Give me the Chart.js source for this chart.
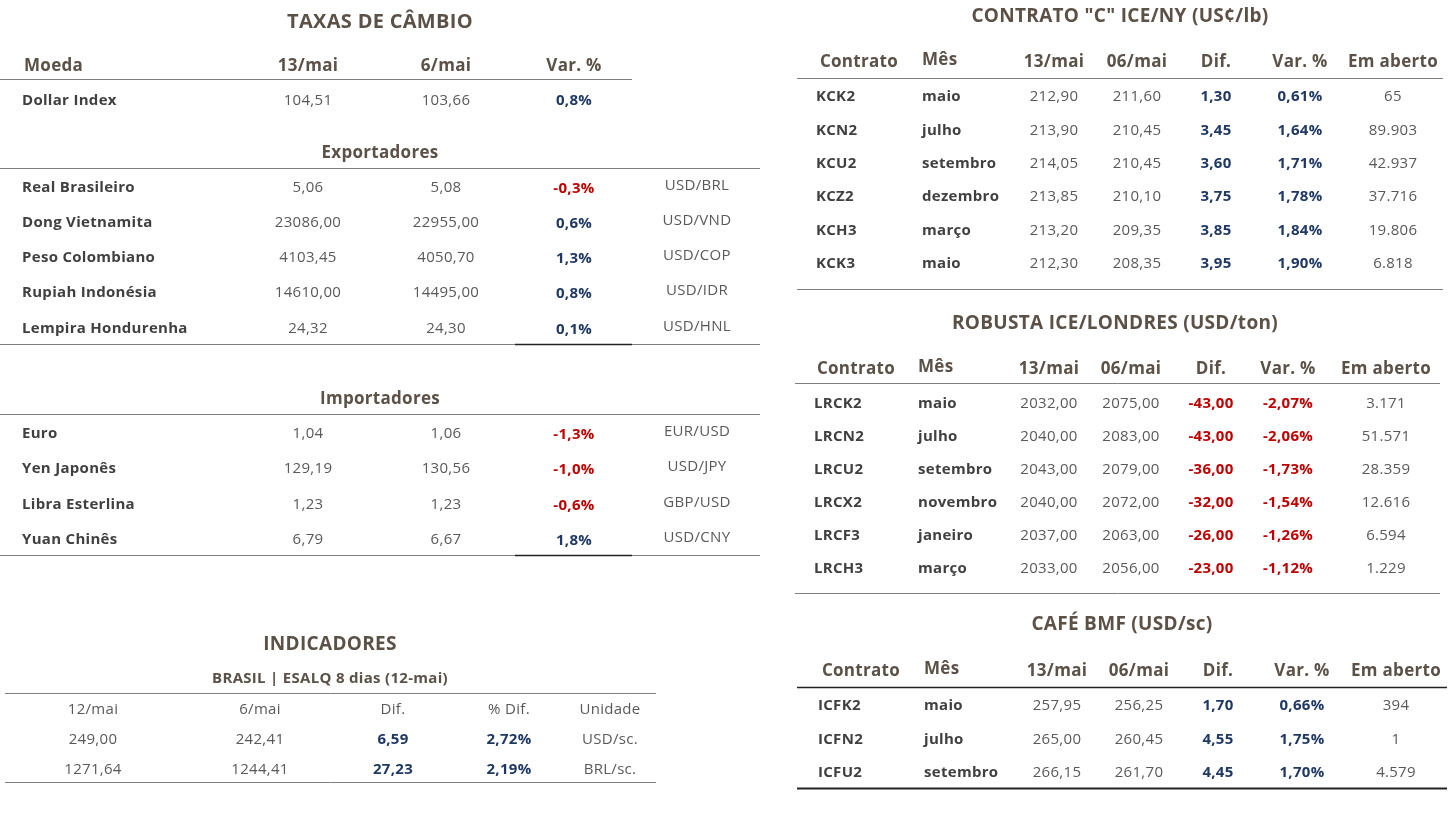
<!DOCTYPE html>
<html><head><meta charset="utf-8">
<script src="https://cdn.jsdelivr.net/npm/chart.js@4/dist/chart.umd.min.js"></script>
<style>html,body{margin:0;background:#fff}#c{display:block}</style>
</head><body>
<div style="width:1449px;height:814px"><canvas id="c"></canvas></div>
<script>
// ---- data ----
var fxHeader = ['Moeda', '13/mai', '6/mai', 'Var. %'];
var dollarIndex = ['Dollar Index', '104,51', '103,66', '0,8%'];
var exportNames = ['Real Brasileiro', 'Dong Vietnamita', 'Peso Colombiano', 'Rupiah Indonésia', 'Lempira Hondurenha'];
var export13 = ['5,06', '23086,00', '4103,45', '14610,00', '24,32'];
var export6 = ['5,08', '22955,00', '4050,70', '14495,00', '24,30'];
var exportVar = ['-0,3%', '0,6%', '1,3%', '0,8%', '0,1%'];
var exportPair = ['USD/BRL', 'USD/VND', 'USD/COP', 'USD/IDR', 'USD/HNL'];
var importNames = ['Euro', 'Yen Japonês', 'Libra Esterlina', 'Yuan Chinês'];
var import13 = ['1,04', '129,19', '1,23', '6,79'];
var import6 = ['1,06', '130,56', '1,23', '6,67'];
var importVar = ['-1,3%', '-1,0%', '-0,6%', '1,8%'];
var importPair = ['EUR/USD', 'USD/JPY', 'GBP/USD', 'USD/CNY'];
var indHeader = ['12/mai', '6/mai', 'Dif.', '% Dif.', 'Unidade'];
var indRows = [['249,00', '242,41', '6,59', '2,72%', 'USD/sc.'], ['1271,64', '1244,41', '27,23', '2,19%', 'BRL/sc.']];
var futHeader = ['Contrato', 'Mês', '13/mai', '06/mai', 'Dif.', 'Var. %', 'Em aberto'];
var arabica = [
  ['KCK2', 'maio', '212,90', '211,60', '1,30', '0,61%', '65'],
  ['KCN2', 'julho', '213,90', '210,45', '3,45', '1,64%', '89.903'],
  ['KCU2', 'setembro', '214,05', '210,45', '3,60', '1,71%', '42.937'],
  ['KCZ2', 'dezembro', '213,85', '210,10', '3,75', '1,78%', '37.716'],
  ['KCH3', 'março', '213,20', '209,35', '3,85', '1,84%', '19.806'],
  ['KCK3', 'maio', '212,30', '208,35', '3,95', '1,90%', '6.818']];
var robusta = [
  ['LRCK2', 'maio', '2032,00', '2075,00', '-43,00', '-2,07%', '3.171'],
  ['LRCN2', 'julho', '2040,00', '2083,00', '-43,00', '-2,06%', '51.571'],
  ['LRCU2', 'setembro', '2043,00', '2079,00', '-36,00', '-1,73%', '28.359'],
  ['LRCX2', 'novembro', '2040,00', '2072,00', '-32,00', '-1,54%', '12.616'],
  ['LRCF3', 'janeiro', '2037,00', '2063,00', '-26,00', '-1,26%', '6.594'],
  ['LRCH3', 'março', '2033,00', '2056,00', '-23,00', '-1,12%', '1.229']];
var bmf = [
  ['ICFK2', 'maio', '257,95', '256,25', '1,70', '0,66%', '394'],
  ['ICFN2', 'julho', '265,00', '260,45', '4,55', '1,75%', '1'],
  ['ICFU2', 'setembro', '266,15', '261,70', '4,45', '1,70%', '4.579']];

var F = '"Open Sans", Lato, sans-serif';
var TITLE = '#5b5147', DARK = '#404040', GRAY = '#595959', BLUE = '#1f3864', RED = '#c00000';

function tx(c, s, x, y, o) {
  o = o || {};
  c.font = (o.b ? 'bold ' : '') + (o.s || 16) + 'px ' + F;
  c.letterSpacing = '0.3px';
  c.fillStyle = o.c || GRAY;
  c.textAlign = o.a || 'center';
  c.textBaseline = 'middle';
  c.fillText(s, x, y);
}
function ln(c, x1, x2, y, w, col) {
  c.strokeStyle = col || '#7f7f7f'; c.lineWidth = w || 1;
  c.beginPath(); c.moveTo(x1, y + 0.5); c.lineTo(x2, y + 0.5); c.stroke();
}
function sgn(v) { return v.charAt(0) === '-' ? RED : BLUE; }

function futures(c, title, tY, cols, hY, lines, rows, y0, dy) {
  tx(c, title, cols.t, tY, {b: 1, s: 19, c: TITLE});
  var hx = [cols.c, cols.m, cols.v[0], cols.v[1], cols.v[2], cols.v[3], cols.v[4]];
  futHeader.forEach(function (h, i) {
    tx(c, h, hx[i], hY + (i == 1 ? -2 : 0), {b: 1, s: 17, c: TITLE, a: i == 1 ? 'left' : 'center'});
  });
  ln(c, lines[0], lines[1], lines[2], lines[3], lines[4]);
  rows.forEach(function (r, k) {
    var y = y0 + k * dy;
    tx(c, r[0], cols.cl, y, {b: 1, s: 15, c: DARK, a: 'left'});
    tx(c, r[1], cols.m, y, {b: 1, s: 15, c: DARK, a: 'left'});
    tx(c, r[2], cols.v[0], y, {s: 15});
    tx(c, r[3], cols.v[1], y, {s: 15});
    tx(c, r[4], cols.v[2], y, {b: 1, s: 15, c: sgn(r[4])});
    tx(c, r[5], cols.v[3], y, {b: 1, s: 15, c: sgn(r[5])});
    tx(c, r[6], cols.v[4], y, {s: 15});
  });
}

var tablesPlugin = {
  id: 'tables',
  afterDraw: function (chart) {
    var c = chart.ctx;
    c.save();
    // Taxas de câmbio
    tx(c, 'TAXAS DE CÂMBIO', 380, 22, {b: 1, s: 20, c: TITLE});
    var hx = [24, 308, 446, 574];
    fxHeader.forEach(function (h, i) { tx(c, h, hx[i], 66, {b: 1, s: 17, c: TITLE, a: i ? 'center' : 'left'}); });
    ln(c, 0, 632, 79);
    tx(c, dollarIndex[0], 22, 101, {b: 1, s: 15, c: DARK, a: 'left'});
    tx(c, dollarIndex[1], 308, 101, {s: 15}); tx(c, dollarIndex[2], 446, 101, {s: 15});
    tx(c, dollarIndex[3], 574, 101, {b: 1, s: 15, c: BLUE});

    function block(name, nY, lY, names, a, b, v, p, y0, endY) {
      tx(c, name, 380, nY, {b: 1, s: 17, c: TITLE});
      ln(c, 0, 760, lY);
      names.forEach(function (n, k) {
        var y = y0[k];
        tx(c, n, 22, y, {b: 1, s: 15, c: DARK, a: 'left'});
        tx(c, a[k], 308, y, {s: 15}); tx(c, b[k], 446, y, {s: 15});
        tx(c, v[k], 574, y + 1, {b: 1, s: 15, c: sgn(v[k])});
        tx(c, p[k], 697, y - 2, {s: 15});
      });
      ln(c, 0, 760, endY);
      ln(c, 515, 632, endY, 1.5, '#222');
    }
    block('Exportadores', 153, 168, exportNames, export13, export6, exportVar, exportPair, [188, 223, 258, 293, 329], 344);
    block('Importadores', 399, 414, importNames, import13, import6, importVar, importPair, [434, 469, 505, 540], 555);

    // Indicadores
    tx(c, 'INDICADORES', 330, 645, {b: 1, s: 19, c: TITLE});
    tx(c, 'BRASIL | ESALQ 8 dias (12-mai)', 330, 679, {b: 1, s: 15, c: TITLE});
    ln(c, 5, 656, 693);
    var ix = [93, 260, 393, 509, 610];
    indHeader.forEach(function (h, i) { tx(c, h, ix[i], 710, {s: 15}); });
    indRows.forEach(function (r, k) {
      var y = 740 + k * 30;
      r.forEach(function (v, i) { tx(c, v, ix[i], y, (i == 2 || i == 3) ? {b: 1, s: 15, c: BLUE} : {s: 15}); });
    });
    ln(c, 5, 656, 782);

    futures(c, 'CONTRATO "C" ICE/NY (US¢/lb)', 17,
      {t: 1120, c: 859, cl: 816, m: 922, v: [1054, 1137, 1216, 1300, 1393]}, 62,
      [797, 1443, 78, 1, '#7f7f7f'], arabica, 97, 33.4);
    ln(c, 797, 1443, 289);
    futures(c, 'ROBUSTA ICE/LONDRES (USD/ton)', 324,
      {t: 1115, c: 856, cl: 814, m: 918, v: [1049, 1131, 1211, 1288, 1386]}, 369,
      [795, 1440, 383, 1, '#7f7f7f'], robusta, 404, 33);
    ln(c, 795, 1440, 593);
    futures(c, 'CAFÉ BMF (USD/sc)', 625,
      {t: 1122, c: 861, cl: 818, m: 924, v: [1057, 1139, 1218, 1302, 1396]}, 671,
      [797, 1447, 687, 1.5, '#222'], bmf, 706, 33.5);
    ln(c, 797, 1447, 788, 2, '#222');
    c.restore();
  }
};

new Chart(document.getElementById('c').getContext('2d'), {
  type: 'bar',
  data: { labels: [], datasets: [] },
  options: {
    responsive: true, maintainAspectRatio: false, animation: false,
    layout: { padding: 0 },
    plugins: { legend: { display: false }, tooltip: { enabled: false } },
    scales: { x: { display: false }, y: { display: false } }
  },
  plugins: [tablesPlugin]
});
</script>
</body></html>
